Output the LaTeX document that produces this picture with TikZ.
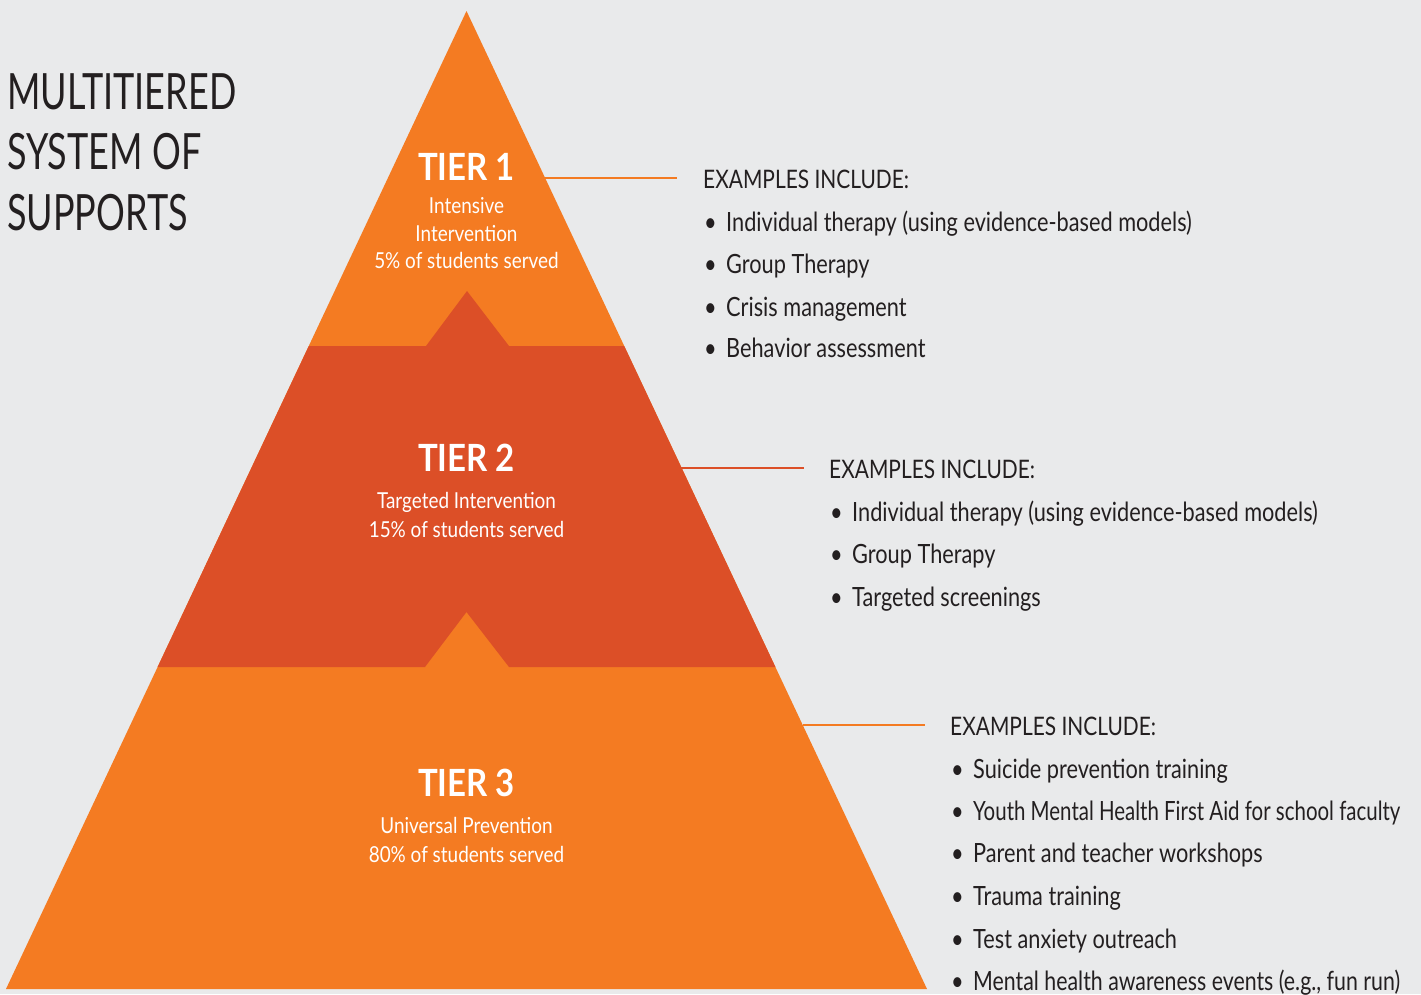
\documentclass[tikz,border=0pt]{standalone}
\usepackage{fontspec}
\setmainfont[FakeStretch=0.82]{Lato}
\newfontfamily\titlefont[FakeStretch=0.72]{Lato}
\newfontfamily\tierfont[FakeStretch=0.88]{Lato}
\newfontfamily\subfont[FakeStretch=0.86]{Lato}
\newfontfamily\narrowfont[FakeStretch=0.772]{Lato}
\newfontfamily\semifont[FakeStretch=0.805]{Lato}
\usetikzlibrary{calc}
\definecolor{bg}{HTML}{E9EAEB}
\definecolor{tor}{HTML}{F47B22}
\definecolor{tred}{HTML}{DC4F27}
\definecolor{ink}{HTML}{231F20}
\tikzset{
  tiername/.style={anchor=base, text=white, inner sep=0, font=\tierfont\fontsize{37.5}{40}\selectfont\bfseries},
  tiersub/.style={anchor=base, text=white, inner sep=0, font=\subfont\fontsize{22}{26}\selectfont},
  exhead/.style={anchor=base west, text=ink, inner sep=0, font=\fontsize{25.5}{30}\selectfont},
  exitem/.style={anchor=base west, text=ink, inner sep=0, font=\fontsize{26.5}{30}\selectfont},
  bigtitle/.style={anchor=base west, text=ink, inner sep=0, font=\titlefont\fontsize{50}{60}\selectfont},
  link/.style={line width=2.5pt}
}
\newcommand\bul{\makebox[22pt][l]{•}}
\begin{document}
\begin{tikzpicture}[x=1pt,y=-1pt]
\fill[bg] (0,0) rectangle (1421,994);
\useasboundingbox (0,0) rectangle (1421,994);
% pyramid
\coordinate (A) at (466.5,11);
\coordinate (L) at (6,989);
\coordinate (R) at (927,989);
\fill[tor] (A) -- (R) -- (L) -- cycle;
\fill[tred] (308.8,346) -- (426,346) -- (467,291) -- (509,346) -- (624.2,346)
  -- (775.4,667) -- (509,667) -- (466.5,612) -- (425,667) -- (157.6,667) -- cycle;
% title
\node[bigtitle] (ti1) at (7,109) {MULTITIERED};
\node[bigtitle] (ti2) at (7,169) {SYSTEM OF};
\node[bigtitle] (ti3) at (7,230) {SUPPORTS};
% tier texts
\node[tiername] (t1) at (466.5,180) {TIER 1};
\node[tiersub] (t1a) at (466.5,213) {Intensive};
\node[tiersub] (t1b) at (466.5,241) {Intervention};
\node[tiersub] (t1c) at (466.5,268) {5\% of students served};
\node[tiername] (t2) at (466.5,471) {TIER 2};
\node[tiersub] (t2a) at (466.5,508) {Targeted Intervention};
\node[tiersub] (t2b) at (466.5,537) {15\% of students served};
\node[tiername] (t3) at (466.5,796) {TIER 3};
\node[tiersub] (t3a) at (466.5,833) {Universal Prevention};
\node[tiersub] (t3b) at (466.5,862) {80\% of students served};
% examples tier 1
\node[exhead] (ex1) at (703,188) {EXAMPLES INCLUDE:};
\node[exitem] (i11) at (704,231) {\bul Individual therapy (using evidence-based models)};
\node[exitem] (i12) at (704,273) {\bul Group Therapy};
\node[exitem] (i13) at (704,316) {\bul Crisis management};
\node[exitem] (i14) at (704,357) {\bul Behavior assessment};
% examples tier 2
\node[exhead] (ex2) at (829,478) {EXAMPLES INCLUDE:};
\node[exitem] (i21) at (830,521) {\bul Individual therapy (using evidence-based models)};
\node[exitem] (i22) at (830,563) {\bul Group Therapy};
\node[exitem] (i23) at (830,606) {\bul Targeted screenings};
% examples tier 3
\node[exhead] (ex3) at (950,735) {EXAMPLES INCLUDE:};
\node[exitem] (i31) at (951,778) {\bul Suicide prevention training};
\node[exitem] (i32) at (951,820) {\bul\narrowfont Youth Mental Health First Aid for school faculty};
\node[exitem] (i33) at (951,862) {\bul Parent and teacher workshops};
\node[exitem] (i34) at (951,905) {\bul Trauma training};
\node[exitem] (i35) at (951,948) {\bul Test anxiety outreach};
\node[exitem] (i36) at (951,990) {\bul\semifont Mental health awareness events (e.g., fun run)};
% connectors
\coordinate (e1) at (545,178);
\coordinate (f1) at (677,178);
\coordinate (e2) at (681,468);
\coordinate (f2) at (804,468);
\coordinate (e3) at (803,725);
\coordinate (f3) at (925,725);
\draw[link,tor] (e1) -- (f1);
\draw[link,tred] (e2) -- (f2);
\draw[link,tor] (e3) -- (f3);
\end{tikzpicture}
\end{document}
